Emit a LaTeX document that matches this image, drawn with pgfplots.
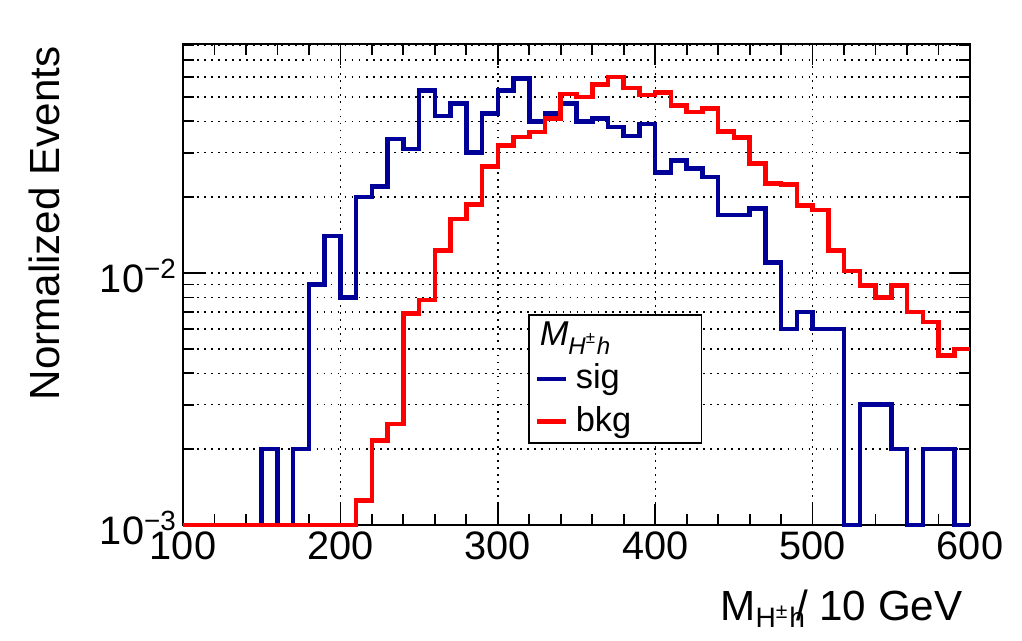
\documentclass[border=0pt]{standalone}
\usepackage{fontspec}
\setmainfont{Liberation Sans}
\usepackage{pgfplots}
\pgfplotsset{compat=1.18}
\definecolor{sigblue}{RGB}{0,0,153}
\definecolor{bkgred}{RGB}{255,0,0}
\begin{document}
\begin{tikzpicture}
\useasboundingbox (-1.83,-1.16) rectangle (8.39,5.25);
\begin{axis}[
  at={(0,0)}, anchor=south west,
  scale only axis, width=7.87cm, height=4.81cm,
  xmin=100, xmax=600, ymode=log, ymin=0.001, ymax=0.081,
  xtick={100,200,300,400,500,600},
  minor x tick num=4,
  ytick={0.001,0.01},
  yticklabels={10\textsuperscript{−3},10\textsuperscript{−2}},
  minor ytick={0.002,0.003,0.004,0.005,0.006,0.007,0.008,0.009,0.02,0.03,0.04,0.05,0.06,0.07,0.08},
  tick align=inside,
  major tick length=0.21cm, minor tick length=0.11cm,
  xmajorgrids, ymajorgrids, yminorgrids,
  grid style={black, line width=0.4pt, dash pattern=on 0.5pt off 1.5pt},
  axis line style={line width=0.5pt},
  every tick/.style={black, line width=0.5pt},
  ticklabel style={font=\fontsize{11.3}{13}\selectfont},
  /pgf/number format/assume math mode=true,
  xticklabel style={yshift=0.06cm},
  yticklabel style={xshift=0.07cm, yshift=-0.03cm},
  clip=false,
  xlabel={M\textsubscript{H\textsuperscript{±}h}\kern-0.25em/ 10 GeV},
  ylabel={Normalized Events},
  every axis x label/.style={at={(rel axis cs:1,0)}, anchor=base east, yshift=-0.95cm, xshift=0.05cm, font=\fontsize{12}{14}\selectfont},
  every axis y label/.style={at={([xshift=-1.23cm, yshift=0.1cm]rel axis cs:0,1)}, anchor=base east, rotate=90, font=\fontsize{12}{14}\selectfont},
  legend style={at={(0.4388,0.438)}, anchor=north west, draw=black, line width=0.5pt, fill=white,
    inner xsep=0.057cm, inner ysep=0pt, row sep=0pt, column sep=0.073cm,
    font=\fontsize{9.8}{11}\selectfont,
    nodes={minimum height=0.425cm, inner sep=0pt}},
  legend cell align=left,
  legend image code/.code={\draw[#1, line width=1.3pt] (0cm,0cm) -- (0.29cm,0cm);},
]
\addlegendimage{empty legend}
\addlegendentry{\makebox[1.2cm][l]{\hspace*{-0.36cm}\textit{M}\textsubscript{\textit{H}\textsuperscript{±}\textit{h}}}}

\addplot[sigblue, line width=1.3pt, const plot] coordinates {
(100,0.001) (110,0.001) (120,0.001) (130,0.001) (140,0.001)
(150,0.002) (160,0.001) (170,0.002) (180,0.009) (190,0.014)
(200,0.008) (210,0.020) (220,0.022) (230,0.034) (240,0.031)
(250,0.053) (260,0.042) (270,0.047) (280,0.030) (290,0.043)
(300,0.053) (310,0.059) (320,0.040) (330,0.043) (340,0.047)
(350,0.040) (360,0.041) (370,0.038) (380,0.035) (390,0.039)
(400,0.025) (410,0.028) (420,0.026) (430,0.024) (440,0.017)
(450,0.017) (460,0.018) (470,0.011) (480,0.006) (490,0.007)
(500,0.006) (510,0.006) (520,0.001) (530,0.003) (540,0.003)
(550,0.002) (560,0.001) (570,0.002) (580,0.002) (590,0.001)
(600,0.001)
};
\addlegendentry{sig}

\addplot[bkgred, line width=1.3pt, const plot] coordinates {
(100,0.001) (110,0.001) (120,0.001) (130,0.001) (140,0.001)
(150,0.001) (160,0.001) (170,0.001) (180,0.001) (190,0.001)
(200,0.001) (210,0.00125) (220,0.00216) (230,0.00252) (240,0.0069)
(250,0.0078) (260,0.0123) (270,0.0164) (280,0.0187) (290,0.0264)
(300,0.0321) (310,0.0347) (320,0.0363) (330,0.041) (340,0.0514)
(350,0.050) (360,0.056) (370,0.060) (380,0.0543) (390,0.0508)
(400,0.0519) (410,0.0462) (420,0.0436) (430,0.045) (440,0.0365)
(450,0.0344) (460,0.0272) (470,0.0226) (480,0.0224) (490,0.0185)
(500,0.0178) (510,0.0123) (520,0.0102) (530,0.0089) (540,0.0080)
(550,0.0089) (560,0.0070) (570,0.0064) (580,0.0047) (590,0.0050)
(600,0.0050)
};
\addlegendentry{bkg}
\end{axis}
\end{tikzpicture}
\end{document}
